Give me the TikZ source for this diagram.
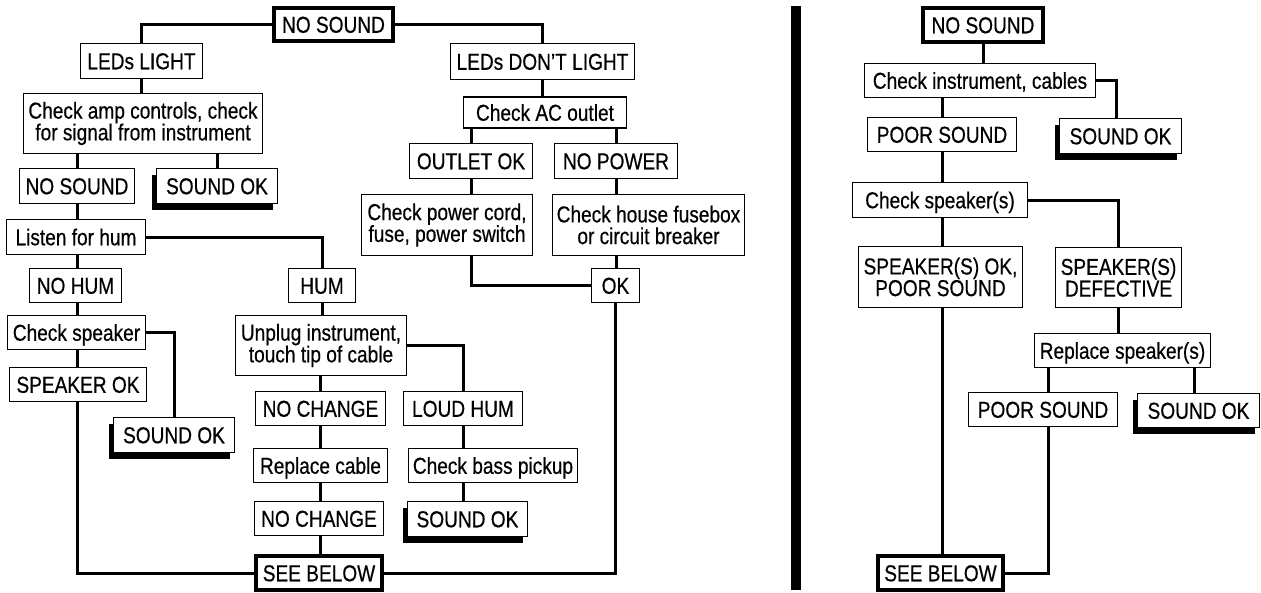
\documentclass[tikz,border=0pt]{standalone}
\usepackage{fontspec}
\setmainfont{Liberation Sans}[FakeStretch=0.83,FakeBold=0.5]
\usetikzlibrary{shadows}
\begin{document}
\begin{tikzpicture}[x=1pt,y=-1pt,
  bx/.style={draw, line width=1.5pt, fill=white, inner sep=0pt, align=center,
    font=\fontsize{23}{21.7}\selectfont},
  box/.style={bx, text height=17.5pt, text depth=1pt},
  mbox/.style={bx},
  shbox/.style={box, general shadow={fill=black, shadow xshift=-5pt, shadow yshift=-6pt}},
  thbox/.style={box, line width=4pt},
  conn/.style={line width=3pt}]
\useasboundingbox (0,0) rectangle (1261,592);

% ---------------- left chart ----------------
\node[thbox, minimum width=119pt, minimum height=33pt] (top) at (333.5,24.5) {NO SOUND};
\node[box, minimum width=122pt, minimum height=35pt] (ledl) at (141.5,61) {LEDs LIGHT};
\node[mbox, minimum width=239pt, minimum height=60pt] (amp) at (143,123.5) {Check amp controls, check\\for signal from instrument};
\node[box, minimum width=115pt, minimum height=35pt] (ns2) at (77,186) {NO SOUND};
\node[shbox, minimum width=121pt, minimum height=35pt] (ok1) at (217,186) {SOUND OK};
\node[box, minimum width=139pt, minimum height=35pt] (listen) at (76,237) {Listen for hum};
\node[box, minimum width=92pt, minimum height=34pt] (nohum) at (75.5,285.5) {NO HUM};
\node[box, minimum width=67pt, minimum height=34pt] (hum) at (322,285.5) {HUM};
\node[box, minimum width=138pt, minimum height=34pt] (chksp) at (76.5,332.5) {Check speaker};
\node[box, minimum width=137pt, minimum height=34pt] (spok) at (78,384.5) {SPEAKER OK};
\node[shbox, minimum width=121pt, minimum height=35pt] (ok2) at (174,435) {SOUND OK};
\node[mbox, minimum width=171pt, minimum height=60pt] (unplug) at (321,345.5) {Unplug instrument,\\touch tip of cable};
\node[box, minimum width=130pt, minimum height=34pt] (nc1) at (320.5,408.5) {NO CHANGE};
\node[box, minimum width=119pt, minimum height=34pt] (loud) at (463,408.5) {LOUD HUM};
\node[box, minimum width=134pt, minimum height=34pt] (repl) at (320.5,465.5) {Replace cable};
\node[box, minimum width=169pt, minimum height=34pt] (bass) at (493,465.5) {Check bass pickup};
\node[box, minimum width=129pt, minimum height=34pt] (nc2) at (319,518.5) {NO CHANGE};
\node[shbox, minimum width=120pt, minimum height=35pt] (ok3) at (467.5,519) {SOUND OK};
\node[thbox, minimum width=126pt, minimum height=34pt] (see1) at (319,573) {SEE BELOW};
\node[box, minimum width=184pt, minimum height=36pt] (ledd) at (542.5,61.5) {LEDs DON’T LIGHT};
\node[box, minimum width=163pt, minimum height=31pt] (ac) at (545,112.5) {Check AC outlet};
\node[box, minimum width=123pt, minimum height=35pt] (outok) at (471,161) {OUTLET OK};
\node[box, minimum width=123pt, minimum height=35pt] (nopow) at (616,161) {NO POWER};
\node[mbox, minimum width=171pt, minimum height=61pt] (cord) at (447,225) {Check power cord,\\fuse, power switch};
\node[mbox, minimum width=192pt, minimum height=61pt] (fuse) at (648.5,225) {Check house fusebox\\or circuit breaker};
\node[box, minimum width=48pt, minimum height=34pt] (okb) at (615.5,285.5) {OK};

\draw[conn] (top.west) -| (ledl.north);
\draw[conn] (top.east) -| (ledd.north);
\draw[conn] (ledl.south) -- (ledl.south |- amp.north);
\draw[conn] (ns2.north |- amp.south) -- (ns2.north);
\draw[conn] (ok1.north |- amp.south) -- (ok1.north);
\draw[conn] (ns2.south) -- (ns2.south |- listen.north);
\draw[conn] (listen.east) -| (hum.north);
\draw[conn] (ns2.south |- listen.south) -- (ns2.south |- nohum.north);
\draw[conn] (ns2.south |- nohum.south) -- (ns2.south |- chksp.north);
\draw[conn] (chksp.east) -| (ok2.north);
\draw[conn] (ns2.south |- chksp.south) -- (ns2.south |- spok.north);
\draw[conn] (ns2.south |- spok.south) |- (see1.west);
\draw[conn] (hum.south) -- (hum.south |- unplug.north);
\draw[conn] (unplug.east) -| (loud.north);
\draw[conn] (nc1.north |- unplug.south) -- (nc1.north);
\draw[conn] (nc1.south) -- (nc1.south |- repl.north);
\draw[conn] (nc1.south |- repl.south) -- (nc1.south |- nc2.north);
\draw[conn] (nc1.south |- nc2.south) -- (nc1.south |- see1.north);
\draw[conn] (loud.south) -- (loud.south |- bass.north);
\draw[conn] (loud.south |- bass.south) -- (loud.south |- ok3.north);
\draw[conn] (ledd.south) -- (ledd.south |- ac.north);
\draw[conn] (outok.north |- ac.south) -- (outok.north);
\draw[conn] (nopow.north |- ac.south) -- (nopow.north);
\draw[conn] (outok.south) -- (outok.south |- cord.north);
\draw[conn] (nopow.south) -- (nopow.south |- fuse.north);
\draw[conn] (outok.south |- cord.south) |- (okb.west);
\draw[conn] (nopow.south |- fuse.south) -- (nopow.south |- okb.north);
\draw[conn] (okb.south) |- (see1.east);

% ---------------- divider ----------------
\fill (791,6) rectangle (801,590);

% ---------------- right chart ----------------
\node[thbox, minimum width=120pt, minimum height=34pt] (rtop) at (983,25) {NO SOUND};
\node[box, minimum width=231pt, minimum height=34pt] (inst) at (980,80.5) {Check instrument, cables};
\node[shbox, minimum width=122pt, minimum height=35pt] (rok1) at (1120.5,136) {SOUND OK};
\node[box, minimum width=149pt, minimum height=34pt] (poor1) at (942,134.5) {POOR SOUND};
\node[box, minimum width=175pt, minimum height=35pt] (chkss) at (940,200) {Check speaker(s)};
\node[mbox, minimum width=164pt, minimum height=61pt] (spkok) at (940.5,277) {SPEAKER(S) OK,\\POOR SOUND};
\node[mbox, minimum width=126pt, minimum height=60pt] (spdef) at (1118.5,277.5) {SPEAKER(S)\\DEFECTIVE};
\node[box, minimum width=176pt, minimum height=34pt] (rspk) at (1122.5,350.5) {Replace speaker(s)};
\node[box, minimum width=149pt, minimum height=34pt] (poor2) at (1043,409.5) {POOR SOUND};
\node[shbox, minimum width=122pt, minimum height=34pt] (rok2) at (1198.5,410.5) {SOUND OK};
\node[thbox, minimum width=125pt, minimum height=34pt] (see2) at (940.5,573) {SEE BELOW};

\draw[conn] (rtop.south) -- (rtop.south |- inst.north);
\draw[conn] (inst.east) -| ([xshift=-4pt]rok1.north);
\draw[conn] (poor1.north |- inst.south) -- (poor1.north);
\draw[conn] (poor1.south) -- (poor1.south |- chkss.north);
\draw[conn] (chkss.east) -| (spdef.north);
\draw[conn] (poor1.south |- chkss.south) -- (poor1.south |- spkok.north);
\draw[conn] (poor1.south |- spkok.south) -- (poor1.south |- see2.north);
\draw[conn] (spdef.south) -- (spdef.south |- rspk.north);
\draw[conn] ([xshift=5pt]poor2.north |- rspk.south) -- ([xshift=5pt]poor2.north);
\draw[conn] ([xshift=-4pt]rok2.north |- rspk.south) -- ([xshift=-4pt]rok2.north);
\draw[conn] ([xshift=5pt]poor2.south) |- (see2.east);
\end{tikzpicture}
\end{document}
